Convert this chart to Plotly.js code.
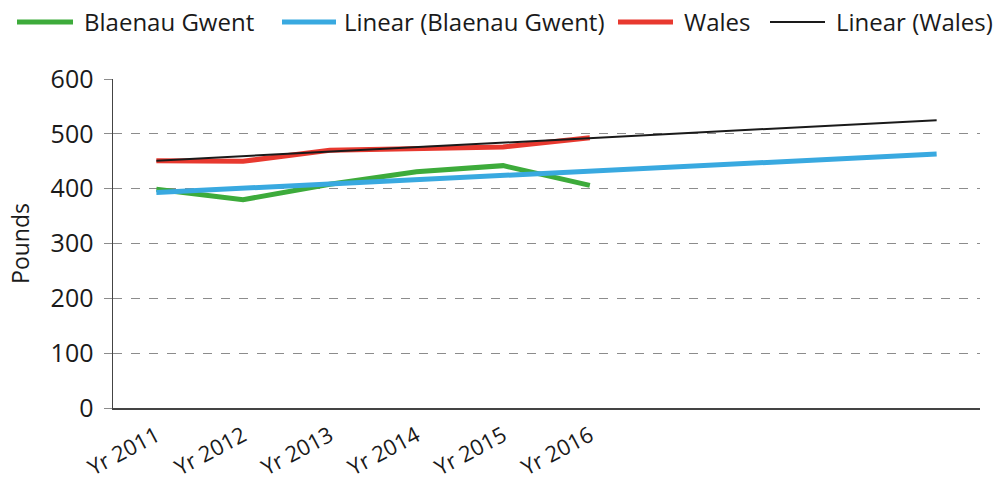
<!DOCTYPE html>
<html>
<head>
<meta charset="utf-8">
<script src="https://cdn.plot.ly/plotly-3.0.1.min.js"></script>
<style>
html,body{margin:0;padding:0;background:#fff;}
#chart{width:995px;height:486px;}
</style>
</head>
<body>
<div id="chart"></div>
<script>
// Data
var yearLabels = ["Yr 2011", "Yr 2012", "Yr 2013", "Yr 2014", "Yr 2015", "Yr 2016"];
var yearIndex = [0, 1, 2, 3, 4, 5];
var blaenauGwent = [399, 380, 408, 431, 442, 406];
var wales = [451, 450, 470, 472, 476, 493];
// Trend lines (start at Yr 2011, forecast 4 periods beyond Yr 2016)
var trendIndex = [0, 9];
var linearBlaenauGwent = [393, 463];
var linearWales = [451, 525];

var seriesNames = ["Blaenau Gwent", "Linear (Blaenau Gwent)", "Wales", "Linear (Wales)"];
var seriesColors = ["#3dab3b", "#39a9e0", "#e8392f", "#1a1a1a"];
var seriesWidths = [5, 5, 5, 2];

var FONT = "Open Sans, Noto Sans, sans-serif";
var TEXT = "#1a1a1a";

var traces = [
  {x: yearIndex, y: blaenauGwent, name: seriesNames[0], mode: "lines",
   line: {color: seriesColors[0], width: seriesWidths[0]}},
  {x: yearIndex, y: wales, name: seriesNames[2], mode: "lines",
   line: {color: seriesColors[2], width: seriesWidths[2]}},
  {x: trendIndex, y: linearBlaenauGwent, name: seriesNames[1], mode: "lines",
   line: {color: seriesColors[1], width: seriesWidths[1]}},
  {x: trendIndex, y: linearWales, name: seriesNames[3], mode: "lines",
   line: {color: seriesColors[3], width: seriesWidths[3]}}
];

// Legend drawn across the top (pixel layout converted to paper coords)
var plotL = 113, plotW = 867, plotT = 79, plotH = 329;
function px(x) { return (x - plotL) / plotW; }
function py(y) { return (plotT + plotH - y) / plotH; }
var legSample = [[17, 73], [282, 336], [618, 673], [770, 825]];
var legText = [84, 344, 684, 836];
var legY = 22;
var shapes = [], annotations = [];
for (var i = 0; i < seriesNames.length; i++) {
  shapes.push({type: "line", xref: "paper", yref: "paper",
    x0: px(legSample[i][0]), x1: px(legSample[i][1]), y0: py(legY), y1: py(legY),
    line: {color: seriesColors[i], width: seriesWidths[i]}});
  annotations.push({xref: "paper", yref: "paper", x: px(legText[i] - 2), y: py(legY),
    xanchor: "left", yanchor: "middle", showarrow: false, text: seriesNames[i],
    font: {family: FONT, size: 24, color: TEXT}});
}

var layout = {
  width: 995, height: 486,
  margin: {l: plotL, r: 995 - plotL - plotW, t: plotT, b: 486 - plotT - plotH},
  paper_bgcolor: "#fff", plot_bgcolor: "#fff",
  font: {family: FONT, size: 22, color: TEXT},
  showlegend: false,
  shapes: shapes,
  annotations: annotations,
  xaxis: {
    range: [-0.5, 9.5], tickmode: "array", tickvals: yearIndex, ticktext: yearLabels,
    tickangle: -28, showgrid: false, zeroline: false,
    showline: true, linecolor: "#444", linewidth: 1.5, ticks: "",
    ticklabelstandoff: 5,
    tickfont: {family: FONT, size: 22, color: TEXT}
  },
  yaxis: {
    range: [0, 600], dtick: 100, tick0: 0,
    showgrid: true, gridcolor: "#8c8c8c", griddash: "dash", gridwidth: 1,
    zeroline: false, showline: true, linecolor: "#444", linewidth: 1.5,
    ticks: "outside", ticklen: 8, tickcolor: "#8c8c8c", tickwidth: 1,
    ticklabelstandoff: 5,
    tickfont: {family: FONT, size: 25, color: TEXT},
    title: {text: "Pounds", font: {family: FONT, size: 23, color: TEXT}, standoff: 14}
  }
};

Plotly.newPlot("chart", traces, layout, {displayModeBar: false, staticPlot: true});
</script>
</body>
</html>
